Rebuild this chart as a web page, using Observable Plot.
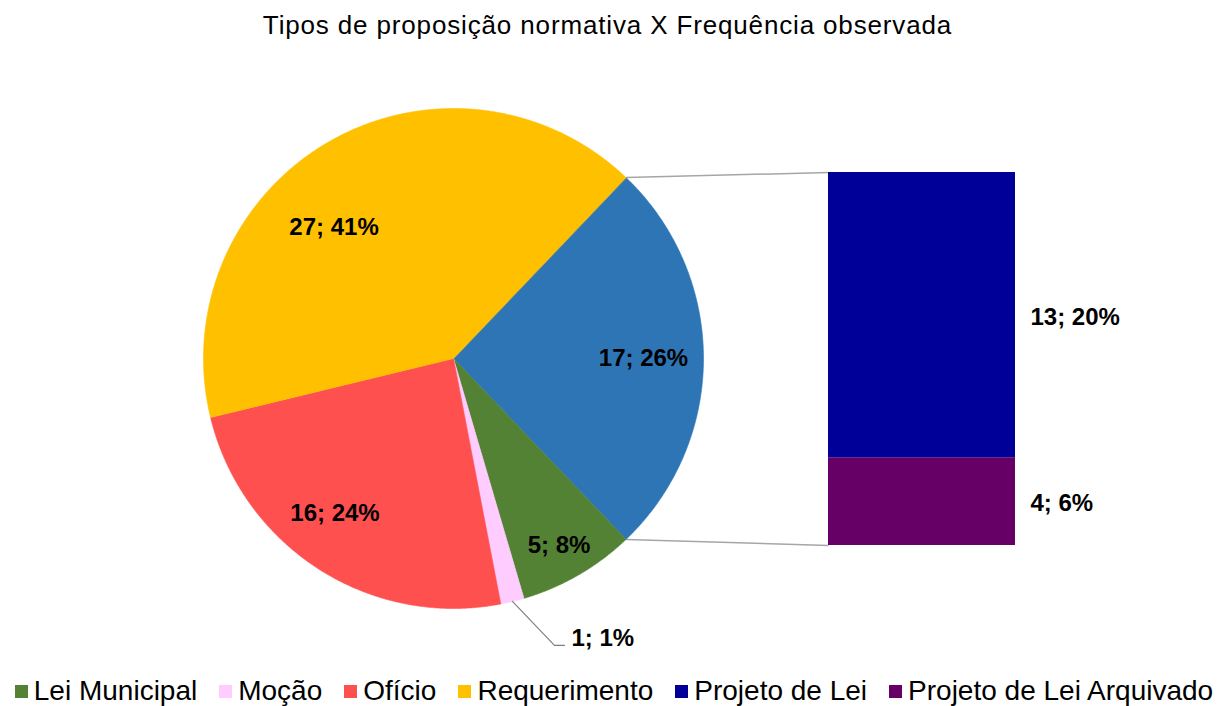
<!DOCTYPE html>
<html><head><meta charset="utf-8">
<script src="https://cdn.jsdelivr.net/npm/d3@7"></script>
<script src="https://cdn.jsdelivr.net/npm/@observablehq/plot@0.6"></script>
<style>
body{margin:0;background:#fff;font-family:"Liberation Sans",Arial,sans-serif;width:1228px;height:706px;overflow:hidden;color:#000}
#title{text-align:center;font-size:26px;line-height:30px;padding-top:10px;height:46px;padding-right:13px;box-sizing:content-box;letter-spacing:0.85px}
#chart svg{display:block}
#legend{display:flex;justify-content:center;align-items:center;font-size:28px;line-height:32px;height:30px;white-space:nowrap}
.item{display:flex;align-items:center;margin:0 11px}
.sw{width:13px;height:13px;margin-right:6px;flex:none}
</style></head><body>
<div id="title">Tipos de proposição normativa X Frequência observada</div>
<div id="chart"></div>
<div id="legend"></div>
<script>
// ---- data ----
const pieCategories = ["Projeto de Lei (total)", "Lei Municipal", "Moção", "Ofício", "Requerimento"];
const pieValuesOwn = [null, 5, 1, 16, 27];          // first slice = sum of the bar
const piePercents = [26, 8, 1, 24, 41];
const barCategories = ["Projeto de Lei Arquivado", "Projeto de Lei"]; // bottom -> top
const barValues = [4, 13];
const barPercents = [6, 20];
const legendOrder = ["Lei Municipal", "Moção", "Ofício", "Requerimento", "Projeto de Lei", "Projeto de Lei Arquivado"];
const colors = {
  "Projeto de Lei (total)": "#2E75B6",
  "Lei Municipal": "#548235",
  "Moção": "#FFCCFF",
  "Ofício": "#FF5050",
  "Requerimento": "#FFC000",
  "Projeto de Lei": "#000099",
  "Projeto de Lei Arquivado": "#660066"
};

// ---- layout (pixels inside the svg) ----
const W = 1228, H = 620;
const PIE = {cx: 453, cy: 302, r: 250};
const BAR = {x0: 828, x1: 1015, top: 116, bottom: 489, labelX: 1030};
// label placement: radius fraction and angle shift (deg) from slice mid-angle
const labelLayout = {
  "Projeto de Lei (total)": {f: 0.76, da: 0},
  "Lei Municipal": {f: 0.86, da: 0.6},
  "Ofício": {f: 0.78, da: 4.7},
  "Requerimento": {f: 0.71, da: -12.3}
};
const leaderLayout = {cat: "Moção", elbow: [42, 44], run: 10, gap: 7, lift: 7};

// ---- derived ----
const barTotal = d3.sum(barValues);
const pieValues = pieValuesOwn.map((v, i) => i === 0 ? barTotal : v);
const total = d3.sum(pieValues);
const k = (BAR.bottom - BAR.top) / barTotal;   // px per unit of count
const ux = px => px / k;
const uy = py => (BAR.bottom - py) / k;
const cx = ux(PIE.cx), cy = uy(PIE.cy), R = PIE.r / k;

const pieData = pieCategories.map((c, i) => ({cat: c, value: pieValues[i], pct: piePercents[i]}));
const start = Math.PI / 2 - (pieValues[0] / total) * Math.PI;
const arcs = d3.pie().sort(null).value(d => d.value).startAngle(start).endAngle(start + 2 * Math.PI)(pieData);

const polar = (a, rr) => ({x: cx + rr * Math.sin(a), y: cy + rr * Math.cos(a)});

const slicePts = [];
for (const a of arcs) {
  const c = a.data.cat;
  slicePts.push({cat: c, x: cx, y: cy, color: colors[c]});
  const n = Math.max(4, Math.ceil((a.endAngle - a.startAngle) / 0.005));
  for (let j = 0; j <= n; j++) {
    const ang = a.startAngle + (a.endAngle - a.startAngle) * j / n;
    const p = polar(ang, R);
    slicePts.push({cat: c, x: p.x, y: p.y, color: colors[c]});
  }
}

const insideLabels = arcs.filter(a => labelLayout[a.data.cat]).map(a => {
  const L = labelLayout[a.data.cat];
  const mid = (a.startAngle + a.endAngle) / 2 + L.da * Math.PI / 180;
  const p = polar(mid, L.f * R);
  return {...p, text: `${a.data.value}; ${a.data.pct}%`};
});

const mo = arcs.find(a => a.data.cat === leaderLayout.cat);
const moP = polar((mo.startAngle + mo.endAngle) / 2, R);
const elbow = {x: moP.x + ux(leaderLayout.elbow[0]), y: moP.y - leaderLayout.elbow[1] / k};
const lend = {x: elbow.x + ux(leaderLayout.run), y: elbow.y};
const leader = [moP, elbow, lend];
const moLabel = [{x: lend.x + ux(leaderLayout.gap), y: lend.y + leaderLayout.lift / k, text: `${mo.data.value}; ${mo.data.pct}%`}];

const barData = barCategories.map((c, i) => ({cat: c, value: barValues[i], pct: barPercents[i], color: colors[c]}));

const blue = arcs[0];
const pA = polar(blue.startAngle, R), pB = polar(blue.endAngle, R);
const connectors = [
  {x1: pA.x, y1: pA.y, x2: ux(BAR.x0), y2: barTotal},
  {x1: pB.x, y1: pB.y, x2: ux(BAR.x0), y2: 0}
];

const font = '"Liberation Sans", Arial, sans-serif';
const chart = Plot.plot({
  width: W, height: H, margin: 0,
  x: {domain: [0, ux(W)], range: [0, W], axis: null},
  y: {domain: [uy(H), uy(0)], range: [H, 0], axis: null},
  color: {type: "identity"},
  style: {fontFamily: font, background: "#fff"},
  marks: [
    Plot.link(connectors, {x1: "x1", y1: "y1", x2: "x2", y2: "y2", stroke: "#A6A6A6", strokeWidth: 1.5}),
    Plot.line(slicePts, {x: "x", y: "y", z: "cat", fill: "color", stroke: "color", strokeWidth: 0.6, curve: "linear-closed"}),
    Plot.rectY(barData, {x1: () => ux(BAR.x0), x2: () => ux(BAR.x1), y: "value", fill: "color"}),
    Plot.line(leader, {x: "x", y: "y", stroke: "#7F7F7F", strokeWidth: 1.2}),
    Plot.text(insideLabels, {x: "x", y: "y", text: "text", fontSize: 24, fontWeight: "bold", fill: "#000"}),
    Plot.text(moLabel, {x: "x", y: "y", text: "text", fontSize: 24, fontWeight: "bold", fill: "#000", textAnchor: "start"}),
    Plot.text(barData, Plot.stackY({x: () => ux(BAR.labelX), y: "value", text: d => `${d.value}; ${d.pct}%`, fontSize: 24, fontWeight: "bold", fill: "#000", textAnchor: "start", dy: 2}))
  ]
});
document.getElementById("chart").appendChild(chart);

const leg = document.getElementById("legend");
for (const c of legendOrder) {
  const it = document.createElement("div"); it.className = "item";
  const sw = document.createElement("div"); sw.className = "sw"; sw.style.background = colors[c];
  const t = document.createElement("span"); t.textContent = c;
  it.appendChild(sw); it.appendChild(t); leg.appendChild(it);
}
</script>
</body></html>
